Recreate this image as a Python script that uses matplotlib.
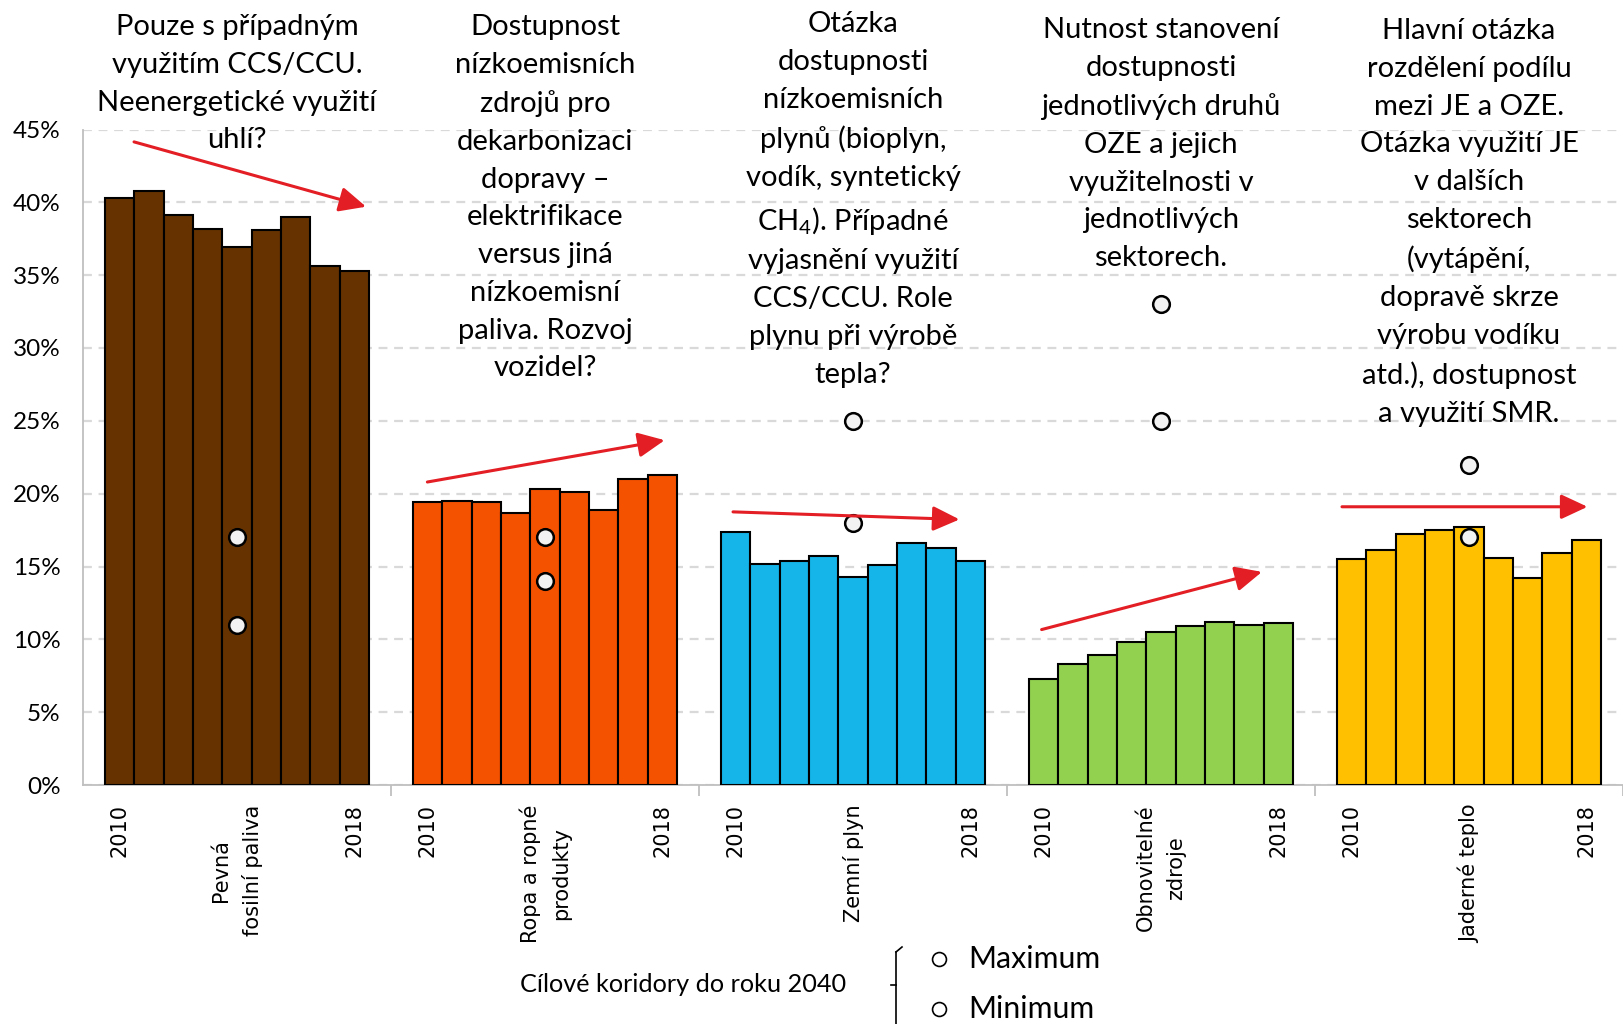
import matplotlib
matplotlib.use('Agg')
import numpy as np
from matplotlib import pyplot as plt
from matplotlib.lines import Line2D
from matplotlib import transforms

plt.rcParams['font.family'] = ['Lato', 'DejaVu Sans']
plt.rcParams['mathtext.fontset'] = 'custom'
plt.rcParams['mathtext.rm'] = 'Lato'

# data
years = list(range(2010, 2019))
categories = ['Pevná\nfosilní paliva', 'Ropa a ropné\nprodukty', 'Zemní plyn',
              'Obnovitelné\nzdroje', 'Jaderné teplo']
solid_fuels = [40.3, 40.8, 39.1, 38.2, 36.9, 38.1, 39.0, 35.6, 35.3]
oil_products = [19.4, 19.5, 19.4, 18.7, 20.3, 20.1, 18.9, 21.0, 21.3]
natural_gas = [17.4, 15.2, 15.4, 15.7, 14.3, 15.1, 16.6, 16.3, 15.4]
renewables = [7.3, 8.3, 8.9, 9.8, 10.5, 10.9, 11.2, 11.0, 11.1]
nuclear_heat = [15.5, 16.1, 17.2, 17.5, 17.7, 15.6, 14.2, 15.9, 16.8]
series = [solid_fuels, oil_products, natural_gas, renewables, nuclear_heat]
colors = ['#663300', '#F55200', '#15B5EA', '#92D050', '#FFC000']

target_max = [17, 17, 25, 33, 22]
target_min = [11, 14, 18, 25, 17]

# trend arrows: (x start, y start, x end, y end) in slot units / percent
arrows = [(1.74, 44.15, 9.65, 39.7),
          (11.74, 20.8, 19.83, 23.67),
          (22.16, 18.75, 29.88, 18.23),
          (32.68, 10.67, 40.19, 14.63),
          (42.92, 19.1, 51.29, 19.1)]

notes = ['Pouze s případným\nvyužitím CCS/CCU.\nNeenergetické využití\nuhlí?',
         'Dostupnost\nnízkoemisních\nzdrojů pro\ndekarbonizaci\ndopravy –\nelektrifikace\nversus jiná\nnízkoemisní\npaliva. Rozvoj\nvozidel?',
         'Otázka\ndostupnosti\nnízkoemisních\nplynů (bioplyn,\nvodík, syntetický\nCH$_{\\mathregular{4}}$). Případné\nvyjasnění využití\nCCS/CCU. Role\nplynu při výrobě\ntepla?',
         'Nutnost stanovení\ndostupnosti\njednotlivých druhů\nOZE a jejich\nvyužitelnosti v\njednotlivých\nsektorech.',
         'Hlavní otázka\nrozdělení podílu\nmezi JE a OZE.\nOtázka využití JE\nv dalších\nsektorech\n(vytápění,\ndopravě skrze\nvýrobu vodíku\natd.), dostupnost\na využití SMR.']
note_top = [14, 14, 11, 17, 18]   # px from top

slot = 10.5
W, H = 1623, 1024
fig = plt.figure(figsize=(W / 100, H / 100), dpi=100)
ax = fig.add_axes([83 / W, 1 - 785 / H, 1540 / W, (785 - 129.5) / H])

major_pos = []
major_lab = []
for g, vals in enumerate(series):
    x0 = g * slot + 0.75 + 0.5
    xs = x0 + np.arange(len(vals))
    ax.bar(xs, vals, width=1.0, color=colors[g], edgecolor='black', linewidth=1.5, zorder=3)
    c = g * slot + slot / 2
    ax.plot([c, c], [target_max[g], target_min[g]], 'o', ms=12, mfc='#F2F2F2',
            mec='black', mew=1.8, ls='none', zorder=5)
    major_pos += [xs[0], c, xs[-1]]
    major_lab += [str(years[0]), categories[g], str(years[-1])]

for (xa, ya, xb, yb) in arrows:
    ax.annotate('', xy=(xb, yb), xytext=(xa, ya),
                arrowprops=dict(arrowstyle='-|>,head_length=0.9,head_width=0.42',
                                mutation_scale=18, color='#E31E24', lw=2.2,
                                shrinkA=0, shrinkB=0), zorder=6)

ax.set_xlim(0, 1540 / (310 / slot))
ax.set_ylim(0, 45)
ax.set_yticks(np.arange(0, 46, 5))
ax.set_yticklabels([f'{v}%' for v in range(0, 46, 5)], fontsize=17.5)
ax.tick_params(axis='y', length=0, pad=16)
ax.set_xticks(major_pos)
ax.set_xticklabels(major_lab, rotation=90, fontsize=15, family='DejaVu Sans',
                   va='top', ha='center', multialignment='center', linespacing=1.65)
ax.tick_params(axis='x', which='major', length=0, pad=14)
ax.set_xticks([g * slot for g in range(1, 6)], minor=True)
ax.tick_params(axis='x', which='minor', length=8, width=1.3, color='#BFBFBF')
ax.grid(axis='y', color='#D9D9D9', ls=(0, (4, 3)), lw=1.6, zorder=0)
for s in ['top', 'right']:
    ax.spines[s].set_visible(False)
ax.spines['left'].set_color('#BFBFBF')
ax.spines['bottom'].set_color('#BFBFBF')
ax.spines['left'].set_linewidth(1.3)
ax.spines['bottom'].set_linewidth(1.3)

trans = transforms.blended_transform_factory(ax.transData, fig.transFigure)
for g, txt in enumerate(notes):
    ax.text(g * slot + slot / 2, 1 - note_top[g] / H, txt, transform=trans,
            ha='center', va='top', fontsize=21, linespacing=1.56, color='black', zorder=7)

# legend at the bottom
fig.text(683 / W, 1 - 985 / H, 'Cílové koridory do roku 2040', ha='center', va='center', fontsize=18.2)
bx = 896 / W
fig.add_artist(Line2D([bx, bx], [1 - 952 / H, 0], color='black', lw=1.2, transform=fig.transFigure))
fig.add_artist(Line2D([bx, bx + 6 / W], [1 - 952 / H, 1 - 947 / H], color='black', lw=1.2, transform=fig.transFigure))
fig.add_artist(Line2D([bx - 5 / W, bx], [1 - 985 / H, 1 - 985 / H], color='black', lw=1.2, transform=fig.transFigure))
for yy, lab in [(959, 'Maximum'), (1009, 'Minimum')]:
    fig.add_artist(Line2D([939 / W], [1 - yy / H], marker='o', ms=10, mfc='white', mec='black',
                          mew=1.2, ls='none', transform=fig.transFigure))
    fig.text(968 / W, 1 - yy / H, lab, ha='left', va='center', fontsize=21.8)

fig.savefig('out.png', dpi=100)
